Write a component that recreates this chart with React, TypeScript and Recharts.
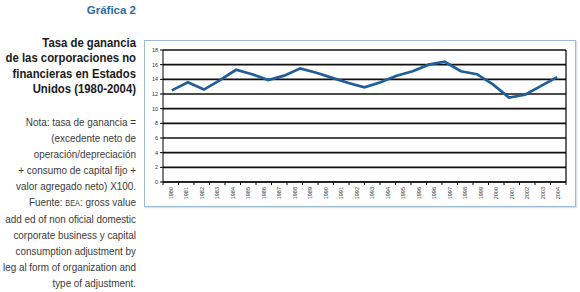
import { LineChart, Line, XAxis, YAxis, CartesianGrid, ReferenceLine } from "recharts";

const years = [
  1980, 1981, 1982, 1983, 1984, 1985, 1986, 1987, 1988, 1989, 1990, 1991, 1992,
  1993, 1994, 1995, 1996, 1997, 1998, 1999, 2000, 2001, 2002, 2003, 2004,
];
const rates = [
  12.5, 13.6, 12.6, 13.9, 15.3, 14.7, 13.9, 14.5, 15.5, 14.9, 14.2, 13.5, 12.9,
  13.6, 14.5, 15.1, 16.0, 16.4, 15.1, 14.7, 13.3, 11.5, 11.9, 13.1, 14.3,
];
// labels as printed under the axis (1996 appears twice in the original)
const tickLabels = [
  "1980", "1981", "1982", "1983", "1984", "1985", "1986", "1987", "1988",
  "1989", "1990", "1991", "1992", "1993", "1994", "1995", "1996", "1996",
  "1997", "1998", "1999", "2000", "2001", "2002", "2003", "2004",
];
const yTicks = [0, 2, 4, 6, 8, 10, 12, 14, 16, 18];

const heading = "Gráfica 2";
const titleLines = [
  "Tasa de ganancia",
  "de las corporaciones no",
  "financieras en Estados",
  "Unidos (1980-2004)",
];
const noteLines = [
  "Nota: tasa de ganancia =",
  "(excedente neto de",
  "operación/depreciación",
  "+ consumo de capital fijo +",
  "valor agregado neto) X100.",
  "FUENTE",
  "add ed of non oficial domestic",
  "corporate business y capital",
  "consumption adjustment by",
  "leg al form of organization and",
  "type of adjustment.",
];

const rows = years.map((year, i) => ({ year, rate: rates[i] }));

// x scale runs a little past the first and last year, like the original
const xMin = 1979.45;
const xMax = 2004.55;
const slot = (xMax - xMin) / tickLabels.length;
const boundaryTicks = tickLabels.map((_, k) => xMin + k * slot).concat(xMax);
const PLOT_W = 403;

const font = "'Liberation Sans', Arial, sans-serif";

function SlotTick(props: any) {
  const { x, y, index } = props;
  if (index >= tickLabels.length) return null;
  const cx = x + PLOT_W / tickLabels.length / 2;
  return (
    <text
      x={cx}
      y={y}
      dy="0.35em"
      transform={`rotate(-90 ${cx} ${y})`}
      textAnchor="end"
      fontSize={5.5}
      fill="#333"
      fontFamily={font}
    >
      {tickLabels[index]}
    </text>
  );
}

function SideText() {
  return (
    <>
      <div
        style={{
          position: "absolute",
          left: 0,
          width: 136,
          top: 3,
          textAlign: "right",
          fontFamily: font,
          fontWeight: "bold",
          fontSize: 11.5,
          lineHeight: "14px",
          color: "#2e6aa5",
        }}
      >
        {heading}
      </div>
      <div
        style={{
          position: "absolute",
          left: -64,
          width: 200,
          top: 35,
          textAlign: "right",
          fontFamily: font,
          fontWeight: "bold",
          fontSize: 13.5,
          lineHeight: "15.3px",
          color: "#1a1a1a",
          transform: "scaleX(0.84)",
          transformOrigin: "right top",
          whiteSpace: "nowrap",
        }}
      >
        {titleLines.map((t) => (
          <div key={t}>{t}</div>
        ))}
      </div>
      <div
        style={{
          position: "absolute",
          left: -64,
          width: 200,
          top: 114,
          textAlign: "right",
          fontFamily: font,
          fontSize: 11.5,
          lineHeight: "16px",
          color: "#3a3a3a",
          transform: "scaleX(0.86)",
          transformOrigin: "right top",
          whiteSpace: "nowrap",
        }}
      >
        {noteLines.map((t) =>
          t === "FUENTE" ? (
            <div key={t}>
              Fuente: <span style={{ fontSize: 8.5 }}>BEA</span>: gross value
            </div>
          ) : (
            <div key={t}>{t}</div>
          )
        )}
      </div>
    </>
  );
}

export default function App() {
  return (
    <div
      style={{
        position: "absolute",
        left: 0,
        top: 0,
        width: 580,
        height: 292,
        background: "#fff",
      }}
    >
      <SideText />
      <div
        style={{
          position: "absolute",
          left: 144,
          top: 40,
          width: 432,
          height: 167,
          boxSizing: "border-box",
          border: "1px solid #9fbcd6",
          boxShadow: "1px 1px 1px #d5e2ee",
          background: "#fff",
        }}
      >
        <LineChart
          width={430}
          height={165}
          data={rows}
          margin={{ top: 9, right: 9, bottom: 0, left: 0 }}
        >
          <CartesianGrid vertical={false} stroke="#111" strokeWidth={1.6} />
          <XAxis
            dataKey="year"
            type="number"
            domain={[xMin, xMax]}
            allowDataOverflow
            ticks={boundaryTicks}
            interval={0}
            height={24}
            tickSize={3}
            tickMargin={2}
            axisLine={{ stroke: "#000" }}
            tickLine={{ stroke: "#000" }}
            tick={<SlotTick />}
          />
          <YAxis
            domain={[0, 18]}
            ticks={yTicks}
            interval={0}
            width={18}
            tickSize={3}
            tickMargin={2}
            axisLine={{ stroke: "#000" }}
            tickLine={{ stroke: "#000" }}
            tick={{ fontSize: 5.5, fill: "#333", fontFamily: font }}
          />
          <ReferenceLine x={xMax} stroke="#000" strokeWidth={1.2} />
          <Line
            dataKey="rate"
            type="linear"
            stroke="#1f5e98"
            strokeWidth={2.7}
            dot={false}
            isAnimationActive={false}
          />
        </LineChart>
      </div>
    </div>
  );
}
